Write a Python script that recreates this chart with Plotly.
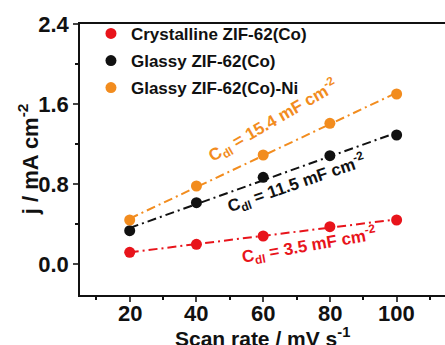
import numpy as np
import plotly.graph_objects as go

scan_rate = [20, 40, 60, 80, 100]
crystalline = [0.117, 0.197, 0.28, 0.373, 0.44]
glassy = [0.333, 0.613, 0.867, 1.083, 1.29]
glassy_ni = [0.44, 0.78, 1.09, 1.407, 1.70]
names = ["Crystalline ZIF-62(Co)", "Glassy ZIF-62(Co)", "Glassy ZIF-62(Co)-Ni"]
colors = ["#e8141b", "#111111", "#f28c1e"]
labels = ["C<sub>dl</sub> = 3.5 mF cm<sup>-2</sup>",
          "C<sub>dl</sub> = 11.5 mF cm<sup>-2</sup>",
          "C<sub>dl</sub> = 15.4 mF cm<sup>-2</sup>"]
label_pos = [(73.7, 0.19, -10), (69.9, 0.81, -19), (63, 1.44, -30)]
yticks = [0.0, 0.8, 1.6, 2.4]
xticks = [20, 40, 60, 80, 100]
x_title = "Scan rate / mV s<sup>-1</sup>"
y_title = "j / mA cm<sup>-2</sup>"

FONT = "Arial, Liberation Sans, sans-serif"
fig = go.Figure()
series = [crystalline, glassy, glassy_ni]
x = np.array(scan_rate)
for ys, c in zip(series, colors):
    k, b = np.polyfit(x, ys, 1)
    fig.add_trace(go.Scatter(x=x, y=k * x + b, mode="lines",
                             line=dict(color=c, width=2, dash="9px,4px,2px,4px"),
                             showlegend=False, hoverinfo="skip"))
for i, (ys, c, n) in enumerate(zip(series, colors, names)):
    fig.add_trace(go.Scatter(x=scan_rate, y=ys, mode="markers", name=n,
                             legendgroup=f"g{i}",
                             marker=dict(color=c, size=11, line=dict(width=0))))

for (ax, ay, ang), t, c in zip(label_pos, labels, colors):
    fig.add_annotation(x=ax, y=ay, text=t, showarrow=False, textangle=ang,
                       font=dict(family=FONT, size=17, color=c, weight="bold"))

# x tick labels placed on the axis scale at the tick values
for v in xticks:
    fig.add_annotation(x=v, xref="x", y=0, yref="paper", text=str(v), showarrow=False,
                       xanchor="center", yanchor="top", yshift=-4,
                       font=dict(family=FONT, size=22, color="#111", weight="bold"))

fig.add_annotation(xref="paper", yref="paper", x=0.5, y=-0.155, text=x_title,
                   showarrow=False, xanchor="center", yanchor="middle",
                   font=dict(family=FONT, size=21, color="#111", weight="bold"))
fig.add_annotation(xref="paper", yref="paper", x=-0.143, y=0.5, text=y_title,
                   showarrow=False, xanchor="center", yanchor="middle", textangle=-90,
                   font=dict(family=FONT, size=22, color="#111", weight="bold"))

fig.update_layout(
    width=445, height=345,
    margin=dict(l=80, r=0, t=24, b=50),
    paper_bgcolor="white", plot_bgcolor="white",
    font=dict(family=FONT, color="#111", weight="bold"),
    legend=dict(x=0.03, y=1.03, xanchor="left", yanchor="top",
                font=dict(size=17, family=FONT, weight="bold"),
                traceorder="grouped",
                bgcolor="rgba(0,0,0,0)", tracegroupgap=2, itemwidth=30),
)
fig.update_xaxes(range=[5.1, 114.5], tickvals=xticks, ticks="outside", ticklen=5,
                 tickwidth=1.5, showline=True, linecolor="#111", linewidth=1.5,
                 mirror=True, showgrid=False, zeroline=False, showticklabels=False,
                 minor=dict(tickvals=[10, 30, 50, 70, 90, 110], ticks="outside", ticklen=3, tickcolor="#111"))
fig.update_yaxes(range=[-0.31, 2.4], tickvals=yticks, tickformat=".1f", ticks="outside",
                 ticklen=5, tickwidth=1.5, showline=True, linecolor="#111", linewidth=1.5,
                 mirror=False, showgrid=False, zeroline=False,
                 minor=dict(tickvals=[0.4, 1.2, 2.0], ticks="outside", ticklen=3, tickcolor="#111"),
                 tickfont=dict(size=22, family=FONT, weight="bold"))
fig.write_html("out.html")
